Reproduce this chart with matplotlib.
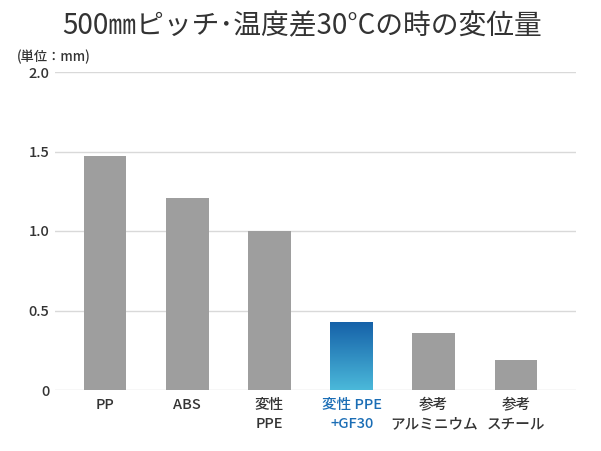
import numpy as np
import matplotlib.pyplot as plt
from matplotlib.colors import LinearSegmentedColormap

plt.rcParams['font.family'] = ['Noto Sans CJK JP', 'DejaVu Sans']

categories = ['PP', 'ABS', '変性\nPPE', '変性 PPE\n+GF30', '参考\nアルミニウム', '参考\nスチール']
values = [1.47, 1.21, 1.0, 0.43, 0.36, 0.19]
highlight = 3
yticks = [0, 0.5, 1.0, 1.5, 2.0]
ytick_labels = ['0', '0.5', '1.0', '1.5', '2.0']

fig = plt.figure(figsize=(6.01, 4.51), dpi=100)
ax = fig.add_axes([55 / 601, 1 - 390 / 451, 521 / 601, 318 / 451])

x = np.arange(len(categories))
colors = ['#9e9e9e'] * len(categories)
colors[highlight] = 'none'
bars = ax.bar(x, values, width=0.52, color=colors, zorder=3)

# gradient for the highlighted bar
b = bars[highlight]
cmap = LinearSegmentedColormap.from_list('g', ['#4bb9da', '#1560a8'])
grad = np.linspace(0, 1, 256).reshape(-1, 1)
im = ax.imshow(grad, cmap=cmap, origin='lower', aspect='auto',
               extent=[b.get_x(), b.get_x() + b.get_width(), 0, b.get_height()],
               zorder=3)
im.set_clip_path(b)

ax.set_xlim(-0.61, 5.73)
ax.set_ylim(0, 2.0)
ax.set_yticks(yticks)
ax.set_yticklabels(ytick_labels, fontsize=10.5, color='#333333', fontweight='medium')
ax.set_xticks(x)
ax.set_xticklabels(categories, fontsize=10.5, color='#333333', linespacing=1.45,
                   fontweight='medium')
ax.get_xticklabels()[highlight].set_color('#1a6db5')
ax.tick_params(length=0, pad=6)
ax.tick_params(axis='y', pad=4)
ax.grid(axis='y', color='#d9d9d9', linewidth=1, zorder=0)
for s in ax.spines.values():
    s.set_visible(False)

fig.text(0.503, 1 - 26 / 451, '500㎜ピッチ･温度差30°Cの時の変位量', ha='center', va='center',
         fontsize=20, color='#333333')
fig.text(17 / 601, 1 - 57 / 451, '(単位：mm)', ha='left', va='center', fontsize=9.5,
         color='#333333', fontweight='medium')

fig.savefig('out.png', dpi=100)
